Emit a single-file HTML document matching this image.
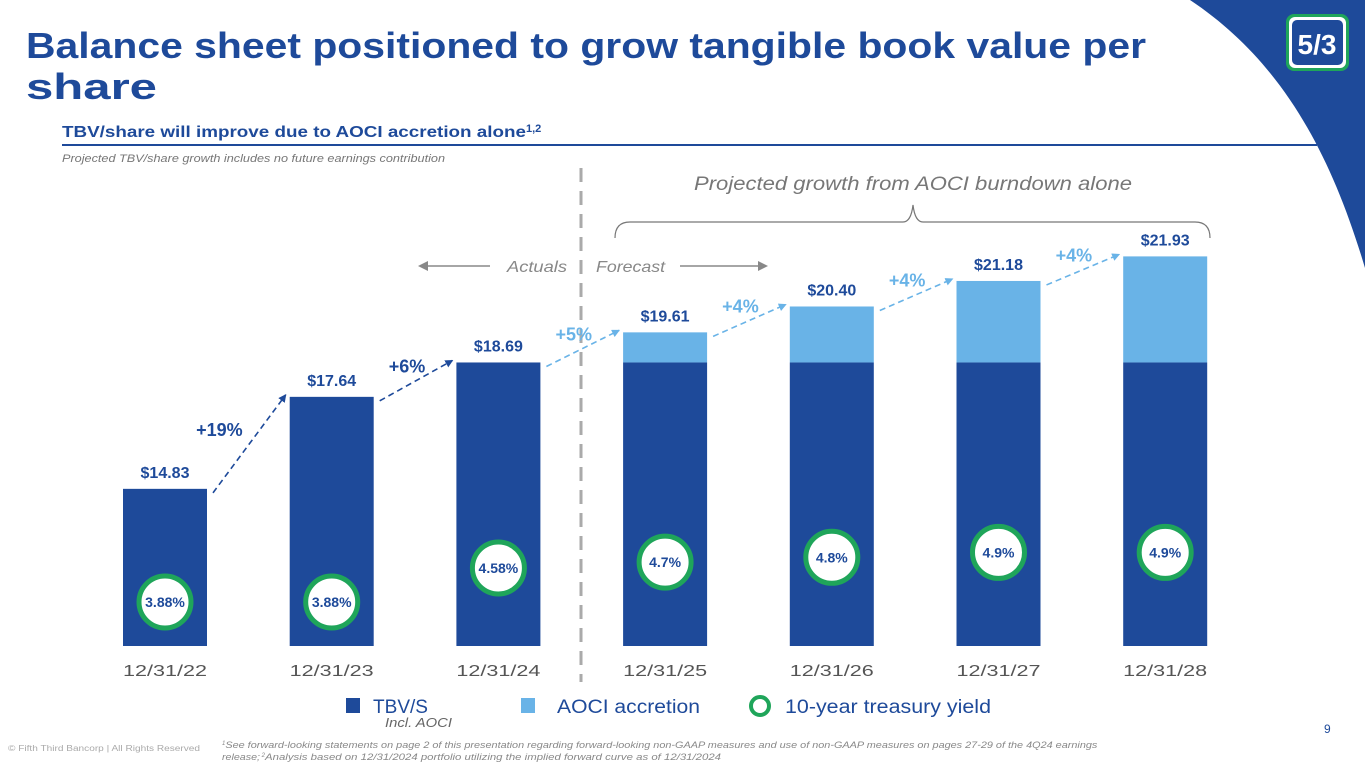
<!DOCTYPE html>
<html><head><meta charset="utf-8">
<style>
html,body{margin:0;padding:0;background:#fff;}
body{width:1365px;height:768px;overflow:hidden;position:relative;font-family:"Liberation Sans",sans-serif;}
svg text{font-family:"Liberation Sans",sans-serif;}
</style></head>
<body>
<svg id="chart" width="1365" height="768" viewBox="0 0 1365 768" xmlns="http://www.w3.org/2000/svg">
<path d="M1190,0 L1365,0 L1365,268 C1330,150 1280,60 1190,0 Z" fill="#1e4a9a"/>
<g>
<rect x="1286" y="14" width="63" height="57" rx="8" fill="#1fa55a"/>
<rect x="1289" y="17" width="57" height="51" rx="6" fill="#fff"/>
<rect x="1292" y="20" width="51" height="45" rx="5" fill="#1e4a9a"/>
<text x="1317" y="54" font-size="28" font-weight="bold" fill="#fff" text-anchor="middle">5/3</text>
</g>
<text x="26" y="58" font-size="36" font-weight="bold" fill="#1e4a9a" textLength="1120" lengthAdjust="spacingAndGlyphs">Balance sheet positioned to grow tangible book value per</text>
<text x="26" y="99" font-size="36" font-weight="bold" fill="#1e4a9a" textLength="131" lengthAdjust="spacingAndGlyphs">share</text>
<text x="62" y="137" font-size="16" font-weight="bold" fill="#1e4a9a"><tspan textLength="464" lengthAdjust="spacingAndGlyphs">TBV/share will improve due to AOCI accretion alone</tspan><tspan font-size="11" dy="-5">1,2</tspan></text>
<line x1="62" y1="145" x2="1317" y2="145" stroke="#1e4a9a" stroke-width="2"/>
<text x="62" y="162" font-size="11" font-style="italic" fill="#777" textLength="383" lengthAdjust="spacingAndGlyphs">Projected TBV/share growth includes no future earnings contribution</text>
<line x1="581" y1="168" x2="581" y2="682" stroke="#aaa" stroke-width="3" stroke-dasharray="14,9"/>
<text x="913" y="190" font-size="19" font-style="italic" fill="#777" text-anchor="middle" textLength="438" lengthAdjust="spacingAndGlyphs">Projected growth from AOCI burndown alone</text>
<path d="M615,238 Q615,222 630,222 L903,222 Q911,222 913,205 Q915,222 923,222 L1195,222 Q1210,222 1210,238" fill="none" stroke="#777" stroke-width="1.2"/>
<text x="567" y="272" font-size="16" font-style="italic" fill="#888" text-anchor="end" textLength="60" lengthAdjust="spacingAndGlyphs">Actuals</text>
<text x="596" y="272" font-size="16" font-style="italic" fill="#888" textLength="69" lengthAdjust="spacingAndGlyphs">Forecast</text>
<line x1="425" y1="266" x2="490" y2="266" stroke="#888" stroke-width="1.5"/>
<path d="M418,266 L428,261 L428,271 Z" fill="#888"/>
<line x1="680" y1="266" x2="760" y2="266" stroke="#888" stroke-width="1.5"/>
<path d="M768,266 L758,261 L758,271 Z" fill="#888"/>
<g id="bars"></g>
<g>
<rect x="346" y="698" width="14" height="15" fill="#1e4a9a"/>
<text x="373" y="713" font-size="19" fill="#1e4a9a" textLength="55" lengthAdjust="spacingAndGlyphs">TBV/S</text>
<text x="385" y="727" font-size="13" font-style="italic" fill="#666" textLength="67" lengthAdjust="spacingAndGlyphs">Incl. AOCI</text>
<rect x="521" y="698" width="14" height="15" fill="#69b3e7"/>
<text x="557" y="713" font-size="19" fill="#1e4a9a" textLength="143" lengthAdjust="spacingAndGlyphs">AOCI accretion</text>
<circle cx="760" cy="706" r="9" fill="none" stroke="#1fa55a" stroke-width="4"/>
<text x="785" y="713" font-size="19" fill="#1e4a9a" textLength="206" lengthAdjust="spacingAndGlyphs">10-year treasury yield</text>
</g>
<text x="8" y="751" font-size="8" fill="#aaa" textLength="192" lengthAdjust="spacingAndGlyphs">© Fifth Third Bancorp | All Rights Reserved</text>
<text x="222" y="748" font-size="9.5" font-style="italic" fill="#888"><tspan font-size="6" dy="-3">1</tspan><tspan dy="3" textLength="872" lengthAdjust="spacingAndGlyphs">See forward-looking statements on page 2 of this presentation regarding forward-looking non-GAAP measures and use of non-GAAP measures on pages 27-29 of the 4Q24 earnings</tspan></text>
<text x="222" y="760" font-size="9.5" font-style="italic" fill="#888"><tspan textLength="38" lengthAdjust="spacingAndGlyphs">release;</tspan><tspan font-size="6" dy="-3"> 2</tspan><tspan dy="3" textLength="456" lengthAdjust="spacingAndGlyphs">Analysis based on 12/31/2024 portfolio utilizing the implied forward curve as of 12/31/2024</tspan></text>
<text x="1324" y="733" font-size="12" fill="#1e4a9a">9</text>
</svg>
<script>
const categories = ["12/31/22","12/31/23","12/31/24","12/31/25","12/31/26","12/31/27","12/31/28"];
const totalValues = [14.83,17.64,18.69,19.61,20.40,21.18,21.93];
const baseValues = [14.83,17.64,18.69,18.69,18.69,18.69,18.69];
const valueLabels = ["$14.83","$17.64","$18.69","$19.61","$20.40","$21.18","$21.93"];
const growthLabels = ["+19%","+6%","+5%","+4%","+4%","+4%"];
const yields = [3.88,3.88,4.58,4.7,4.8,4.9,4.9];
const yieldLabels = ["3.88%","3.88%","4.58%","4.7%","4.8%","4.9%","4.9%"];
const forecastStart = 3;

const NS = "http://www.w3.org/2000/svg";
const g = document.getElementById("bars");
const baseY = 646, vMin = 10.03, pxPer = 32.74;
const barW = 84;
function xC(i){ return 165 + i*166.7; }
function yV(v){ return baseY - (v - vMin)*pxPer; }
function yY(p){ return 602 - (p - 3.88)*48.6; }
function mk(tag, attrs, parent){
  const e = document.createElementNS(NS, tag);
  for (const k in attrs) e.setAttribute(k, attrs[k]);
  (parent||g).appendChild(e);
  return e;
}
const defs = mk("defs", {}, document.getElementById("chart"));
["dark","light"].forEach(function(n){
  const m = mk("marker",{id:"ah-"+n, markerWidth:"8", markerHeight:"8", refX:"7", refY:"4", orient:"auto", markerUnits:"userSpaceOnUse"}, defs);
  mk("path",{d:"M0,0 L8,4 L0,8 Z", fill: n==="dark"?"#1e4a9a":"#69b3e7"}, m);
});
categories.forEach(function(c, i){
  const x0 = xC(i) - barW/2;
  const b = mk("rect",{x:x0, y:yV(baseValues[i]), width:barW, height:baseY - yV(baseValues[i]), fill:"#1e4a9a"});
  
  
  if (totalValues[i] > baseValues[i]) {
    const a = mk("rect",{x:x0, y:yV(totalValues[i]), width:barW, height:yV(baseValues[i]) - yV(totalValues[i]), fill:"#69b3e7"});
    
    
  }
  const vl = mk("text",{x:xC(i), y:yV(totalValues[i]) - 11, "font-size":16, "font-weight":"bold", fill:"#1e4a9a", "text-anchor":"middle"});
  vl.textContent = valueLabels[i];
  
  
  const cl = mk("text",{x:xC(i), y:baseY + 30, "font-size":16, fill:"#555", "text-anchor":"middle", textLength:84, lengthAdjust:"spacingAndGlyphs"});
  cl.textContent = c;
  
  
  const cy = yY(yields[i]);
  const ci = mk("circle",{cx:xC(i), cy:cy, r:26, fill:"#fff", stroke:"#1fa55a", "stroke-width":5});
  
  
  const yl = mk("text",{x:xC(i), y:cy + 5, "font-size":14, "font-weight":"bold", fill:"#1e4a9a", "text-anchor":"middle"});
  yl.textContent = yieldLabels[i];
  
  
});
growthLabels.forEach(function(lbl, i){
  const dark = (i + 1) < forecastStart;
  const col = dark ? "#1e4a9a" : "#69b3e7";
  const x1 = xC(i) + barW/2 + 6, y1 = yV(totalValues[i]) + 4;
  const x2 = xC(i+1) - barW/2 - 4, y2 = yV(totalValues[i+1]) - 2;
  const ln = mk("line",{x1:x1, y1:y1, x2:x2, y2:y2, stroke:col, "stroke-width":1.6, "stroke-dasharray":"6,4", "marker-end":"url(#ah-" + (dark?"dark":"light") + ")"});
  
  
  const dx = i === 0 ? -30 : -9;
  const t = mk("text",{x:(x1+x2)/2 + dx, y:(y1+y2)/2 - 8, "font-size":18, "font-weight":"bold", fill: col, "text-anchor":"middle"});
  t.textContent = lbl;
  
  
});
</script>
</body></html>
